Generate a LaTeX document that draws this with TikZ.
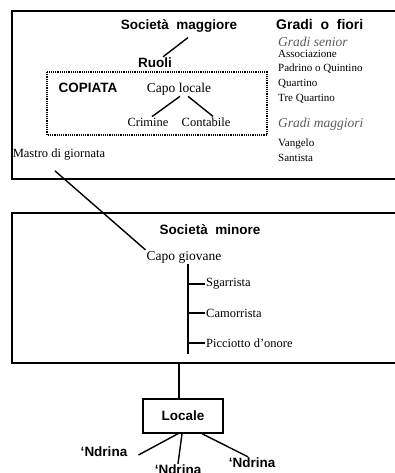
\documentclass[tikz,border=0pt]{standalone}
\usepackage{fontspec}
\setmainfont{Liberation Serif}
\setsansfont{Liberation Sans}

\tikzset{
  title/.style={font=\sffamily\bfseries\fontsize{13.5}{16}\selectfont, inner sep=1pt},
  role/.style={font=\fontsize{12.5}{15}\selectfont, inner sep=1pt},
  grade/.style={font=\fontsize{11}{13}\selectfont, anchor=west, inner sep=0pt},
  gradegroup/.style={font=\itshape\fontsize{13.5}{15}\selectfont, text=black!65, anchor=west, inner sep=0pt},
  frame/.style={line width=1.4pt},
  link/.style={line width=1.4pt}
}

\begin{document}
\begin{tikzpicture}[x=1pt, y=-1pt]
\useasboundingbox (0,0) rectangle (395,473);

% frames
\draw[frame] (12,11) rectangle (410,179);
\draw[frame] (12,213) rectangle (410,363);
\draw[line width=1.3pt, dash pattern=on 1.2pt off 1pt] (47,72) rectangle (267,135);

% societa maggiore
\node[title] (socmag) at (179,26) {Società\ \ maggiore};
\node[title] (ruoli) at (155,63) {Ruoli};
\node[title] (copiata) at (88,88) {COPIATA};
\node[role, font=\fontsize{13.5}{16}\selectfont] (capoloc) at (179,89) {Capo locale};
\node[role] (crimine) at (148,122) {Crimine};
\node[role] (contab) at (206,122) {Contabile};
\node[role] (mastro) at (59,155) {Mastro di giornata};

% gradi
\node[title, anchor=west, inner sep=0pt, font=\sffamily\bfseries\fontsize{14}{16}\selectfont] (gradi) at (276,24) {Gradi\ \ o\ \ fiori};
\node[gradegroup] (senior) at (278,42) {Gradi senior};
\node[grade] (assoc) at (278,54) {Associazione};
\node[grade] (padrino) at (278,69) {Padrino o Quintino};
\node[grade] (quartino) at (278,84) {Quartino};
\node[grade] (trequart) at (278,99) {Tre Quartino};
\node[gradegroup] (maggiori) at (278,124) {Gradi maggiori};
\node[grade] (vangelo) at (278,144) {Vangelo};
\node[grade] (santista) at (278,158) {Santista};

% societa minore
\node[title] (socmin) at (210,230) {Società\ \ minore};
\node[role, font=\fontsize{13.5}{16}\selectfont] (capogio) at (184,257) {Capo giovane};
\node[role, anchor=west] (sgarr) at (205,284) {Sgarrista};
\node[role, anchor=west] (camorr) at (205,313) {Camorrista};
\node[role, anchor=west] (picc) at (205,343) {Picciotto d’onore};
\coordinate (spinebot) at (188,354);
\coordinate (minbot) at (179,363);

% locale
\node[title, draw, line width=1.4pt, minimum width=80pt, minimum height=34pt] (locale) at (183,416) {Locale};
\node[title] (nd1) at (104,452) {‘Ndrina};
\node[title] (nd2) at (178,470) {‘Ndrina};
\node[title] (nd3) at (252,463) {‘Ndrina};

% connectors
\draw[link] ([shift={(9pt,-4pt)}]socmag.south) -- ([xshift=8pt]ruoli.north);
\draw[link] ([xshift=1pt]capoloc.south) -- ([xshift=4pt]crimine.north);
\draw[link] ([xshift=9pt]capoloc.south) -- ([xshift=7pt]contab.north);
\draw[link] ([shift={(-4pt,-9pt)}]mastro.south) -- (capogio.north west);
\draw[link] ([xshift=4pt]capogio.south) -- (spinebot);
\draw[link] (sgarr.west) -- (sgarr.west -| spinebot);
\draw[link] (camorr.west) -- (camorr.west -| spinebot);
\draw[link] (picc.west) -- (picc.west -| spinebot);
\draw[link] (minbot) -- (minbot |- locale.north);
\draw[link] ([xshift=-5pt]locale.south) -- ([shift={(10pt,-3pt)}]nd1.east);
\draw[link] ([xshift=-1pt]locale.south) -- (nd2.north);
\draw[link] ([xshift=19pt]locale.south) -- ([xshift=-4pt]nd3.north);

\end{tikzpicture}
\end{document}
